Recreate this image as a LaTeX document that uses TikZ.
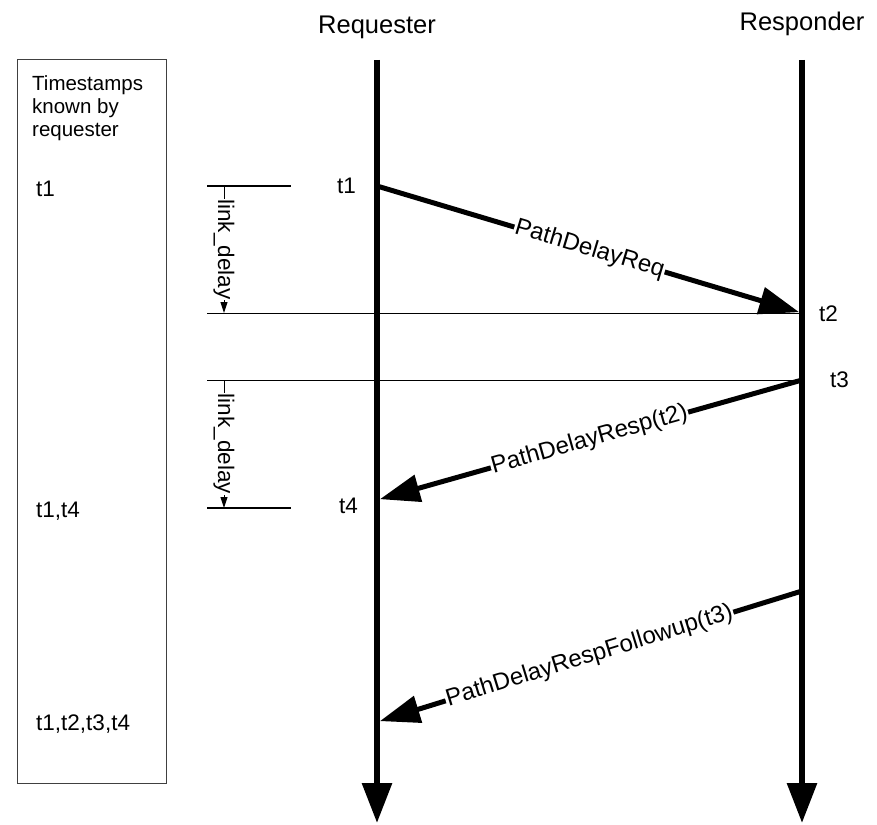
\documentclass[tikz,border=0pt]{standalone}
\usepackage{fontspec}
\setmainfont{Liberation Sans}
\usetikzlibrary{arrows.meta}
\begin{document}
\begin{tikzpicture}[x=1pt,y=-1pt,
  lifeline/.style={line width=6pt, -{Triangle[length=40pt,width=29pt]}},
  message/.style={line width=5pt, -{Triangle[length=40pt,width=27pt]}, shorten >=3pt},
  msglabel/.style={sloped, fill=white, inner sep=1pt, font=\fontsize{24}{28}\selectfont},
  guide/.style={line width=0.8pt},
  tickline/.style={line width=1.6pt},
  dimline/.style={line width=1pt, -{Triangle[length=11pt,width=7pt]}},
  dimlabel/.style={rotate=-90, fill=white, inner sep=0.5pt, font=\fontsize{22.5}{26}\selectfont},
  stamp/.style={inner sep=0pt, font=\fontsize{22.5}{26}\selectfont},
  actor/.style={inner sep=0pt, anchor=base, font=\fontsize{25.5}{30}\selectfont}]

\useasboundingbox (0,0) rectangle (877,824);

% lifelines
\coordinate (reqtop) at (377,60);
\coordinate (reqend) at (377,823);
\coordinate (restop) at (802,60);
\coordinate (resend) at (802,823);
\node[actor] (reqname) at (377,34) {Requester};
\node[actor] (resname) at (802,31) {Responder};
\draw[lifeline] (reqtop) -- (reqend);
\draw[lifeline] (restop) -- (resend);

% event points on the lifelines
\coordinate (e1) at (377,186);
\coordinate (e2) at (802,313);
\coordinate (e3) at (802,380);
\coordinate (e4) at (377,500);
\coordinate (e5) at (802,591);
\coordinate (e6) at (377,722);

% reference lines for the delay measurement
\coordinate (g1) at (207,313);
\coordinate (g2) at (207,380);
\coordinate (k1a) at (207,186);
\coordinate (k1b) at (291,186);
\coordinate (k2a) at (207,508);
\coordinate (k2b) at (291,508);
\draw[guide] (g1) -- (e2);
\draw[guide] (g2) -- (e3);
\draw[tickline] (k1a) -- (k1b);
\draw[tickline] (k2a) -- (k2b);

% link delay dimensions
\coordinate (d1a) at (224,186);
\coordinate (d1b) at (224,313);
\coordinate (d2a) at (224,380);
\coordinate (d2b) at (224,508);
\draw[dimline] (d1a) -- node[dimlabel] (ld1) {link\_delay} (d1b);
\draw[dimline] (d2a) -- node[dimlabel] (ld2) {link\_delay} (d2b);

% messages
\draw[message] (e1) -- node[msglabel] (m1) {PathDelayReq} (e2);
\draw[message] (e3) -- node[msglabel] (m2) {PathDelayResp(t2)} (e4);
\draw[message] (e5) -- node[msglabel] (m3) {PathDelayRespFollowup(t3)} (e6);

% timestamp labels
\node[stamp, anchor=east] (s1) at (356,186) {t1};
\node[stamp, anchor=west] (s2) at (819,314) {t2};
\node[stamp, anchor=west] (s3) at (830,380) {t3};
\node[stamp, anchor=east] (s4) at (358,506) {t4};

% timestamps known by the requester
\draw[line width=1pt, black!75] (17,60) rectangle (166,783);
\node[inner sep=0pt, anchor=north west, align=left,
      font=\fontsize{20.5}{23}\selectfont] (known) at (32,75) {Timestamps\\known by\\requester};
\node[stamp, anchor=west] (k1) at (36,189) {t1};
\node[stamp, anchor=west] (k2) at (36,511) {t1,t4};
\node[stamp, anchor=west] (k3) at (36,724) {t1,t2,t3,t4};
\end{tikzpicture}
\end{document}
